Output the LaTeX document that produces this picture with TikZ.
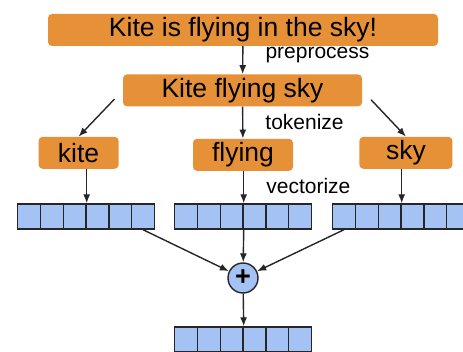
\documentclass[tikz,border=0pt]{standalone}
\usepackage{fontspec}
\setmainfont{Liberation Sans}
\usepackage{xcolor}
\usepackage{tikz}
\usetikzlibrary{shapes,arrows.meta,positioning,calc}
\definecolor{colorBoxfill}{HTML}{E69138}
\definecolor{colorCellfill}{HTML}{A4C2F4}
\definecolor{colorStroke}{HTML}{262626}

\begin{document}
\begin{tikzpicture}[
    x=1pt, y=-1pt,
    box/.style={rectangle, fill=colorBoxfill, rounded corners=4pt, align=center, inner sep=0pt, minimum height=32pt, font=\fontsize{26.5}{30}\selectfont},
    cell/.style={rectangle, draw=colorStroke, fill=colorCellfill, line width=1.4pt, inner sep=0pt, minimum width=22.8pt, minimum height=25pt},
    plus/.style={circle, draw=colorStroke, fill=colorCellfill, line width=1.4pt, inner sep=0pt, minimum size=30pt, font=\fontsize{27}{27}\selectfont\bfseries},
    lbl/.style={inner sep=0pt, font=\fontsize{21}{24}\selectfont},
    arrow/.style={-{Latex[length=9pt, width=7pt]}, draw=colorStroke, line width=1.4pt}
]
    \useasboundingbox (0,0) rectangle (463,352);
    \clip (0,0) rectangle (463,352);

    % Sentence and tokens
    \node[box, minimum width=390pt] (sentence) at (243,30) {Kite is flying in the sky!};
    \node[box, minimum width=239pt, below=28pt of sentence, xshift=-0.5pt] (clean) {Kite flying sky};
    \node[box, minimum width=100pt, below=32pt of clean, xshift=0.5pt] (flying) {flying};
    \node[box, minimum width=80pt, left=74pt of flying, yshift=2pt] (kite) {kite};
    \node[box, minimum width=93pt, right=66pt of flying, yshift=2pt] (sky) {sky};

    % Vectors
    \foreach \v/\cx/\cy in {vl/86/216.5, vm/243/216.5, vr/401/216.5, vo/243/339.5}
        \foreach \i in {1,...,6}
            \node[cell] (\v-\i) at ({\cx+(\i-3.5)*22.8},\cy) {};

    \node[plus] (sum) at (243,278) {+};

    % Edges
    \draw[arrow] (sentence) -- node[lbl, pos=0.3, right=22pt] {preprocess} (clean);
    \draw[arrow] (clean) -- node[lbl, pos=0.47, right=22pt] {tokenize} (flying);
    \draw[arrow, shorten <=12pt] (clean.west) -- (kite.north);
    \draw[arrow, shorten <=13pt] (clean.east) -- (sky.north);
    \draw[arrow] (kite.south -| vl-3.north east) -- (vl-3.north east);
    \draw[arrow] (flying.south -| vm-3.north east) -- node[lbl, pos=0.45, right=22pt] {vectorize} (vm-3.north east);
    \draw[arrow] (sky.south -| vr-3.north east) -- (vr-3.north east);
    \draw[arrow] (vl-6.south) -- (sum);
    \draw[arrow] (vm-3.south east) -- (sum);
    \draw[arrow] (vr-1.south) -- (sum);
    \draw[arrow] (sum) -- (vo-3.north east);

\end{tikzpicture}
\end{document}
